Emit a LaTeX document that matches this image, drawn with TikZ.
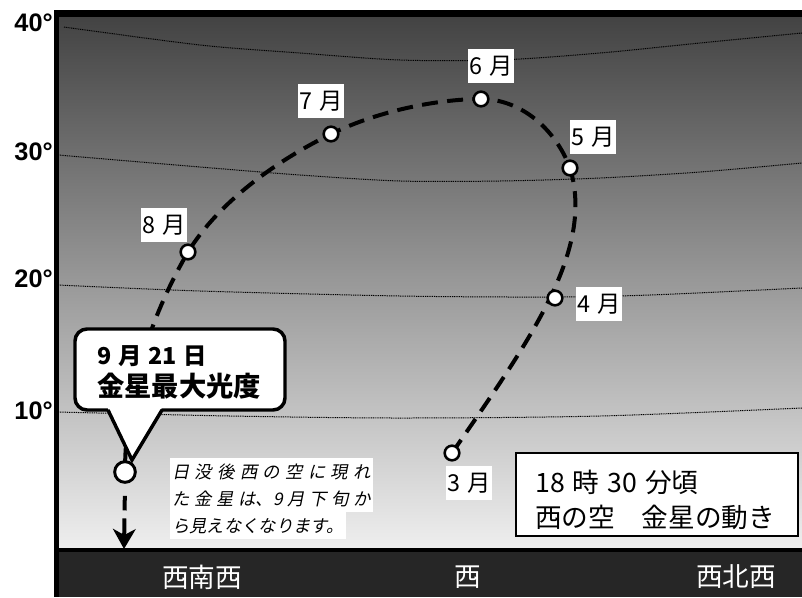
\documentclass[tikz,border=0pt]{standalone}
\usepackage{fontspec}
\usetikzlibrary{arrows.meta}
\newfontfamily\jp{Noto Sans CJK JP}
\newfontfamily\jpit{Noto Sans CJK JP}[FakeSlant=0.2]
\newfontfamily\axisfont{Liberation Sans}
\definecolor{skytop}{HTML}{434343}
\definecolor{skymid}{HTML}{A9A9A9}
\definecolor{skybot}{HTML}{EFEFEF}
\definecolor{bandcol}{HTML}{262626}
\begin{document}
\begin{tikzpicture}[x=0.75pt,y=-0.75pt,
  alt/.style={line width=0.75pt, dash pattern=on 0.75pt off 0.6pt, black},
  venuspath/.style={line width=3pt, dash pattern=on 12pt off 7pt},
  ptnode/.style={circle, draw, fill=white, line width=1.9pt, minimum size=11pt, inner sep=0},
  sepnode/.style={circle, draw, fill=white, line width=2.2pt, minimum size=15.5pt, inner sep=0},
  mlabel/.style={fill=white, inner sep=0, minimum width=35pt, minimum height=26pt, font=\jp\fontsize{17.5pt}{17.5pt}\selectfont},
  axislabel/.style={anchor=east, inner sep=0, font=\axisfont\bfseries\fontsize{19pt}{19pt}\selectfont},
  bandtext/.style={inner sep=0, text=white, font=\jp\fontsize{20pt}{20pt}\selectfont},
  itline/.style={anchor=north west, fill=white, inner xsep=1.5pt, inner ysep=0, minimum height=20.25pt, font=\jpit\fontsize{13pt}{13pt}\selectfont},
  infotext/.style={anchor=west, inner sep=0, font=\jp\fontsize{20pt}{20pt}\selectfont},
  callouttext/.style={anchor=west, inner sep=0, font=\jp\bfseries},
  callline/.style={line width=2.6pt}
]
\useasboundingbox (0,0) rectangle (802,597);
\fill[white] (0,0) rectangle (802,597);

% sky
\shade[top color=skytop, middle color=skymid, bottom color=skybot] (58,17) rectangle (802,550);

% altitude circles
\draw[alt] plot[smooth] coordinates {(64,27) (200,45) (300,53) (400,60) (500,60) (600,53) (700,43) (802,33)};
\draw[alt] plot[smooth] coordinates {(58,155) (200,167) (300,175) (400,181) (500,181) (600,178) (700,172) (802,163)};
\draw[alt] plot[smooth] coordinates {(58,285) (200,291) (400,296) (550,297) (650,295) (802,288)};
\draw[alt] plot[smooth] coordinates {(58,412) (230,416) (400,418) (600,416) (802,408)};

% horizon band and frame
\fill[bandcol] (58,550) rectangle (802,597);
\draw[line width=2.6pt] (56,550) -- (802,550);
\draw[line width=4.8pt] (54,13.5) -- (802,13.5);
\draw[line width=3.8pt] (56.5,11) -- (56.5,597);

% degree labels
\node[axislabel] (d40) at (53,23) {40°};
\node[axislabel] (d30) at (53,152) {30°};
\node[axislabel] (d20) at (53,279) {20°};
\node[axislabel] (d10) at (53,411) {10°};

% direction labels
\node[bandtext] (wsw) at (202,577) {西南西};
\node[bandtext] (w) at (468,577) {西};
\node[bandtext] (wnw) at (736,577) {西北西};

% positions of Venus
\coordinate (c3) at (452,453);
\coordinate (c4) at (555,298);
\coordinate (c5) at (570,168);
\coordinate (c6) at (481,99);
\coordinate (c7) at (331,134);
\coordinate (c8) at (188,252);
\coordinate (c9) at (125,472);
\coordinate (arrowend) at (124,549);

\draw[venuspath] (c3) .. controls (530,340) and (595,250) .. (c5)
  .. controls (555,128) and (520,99) .. (c6)
  .. controls (440,99) and (380,110) .. (c7)
  .. controls (280,159) and (220,200) .. (c8)
  .. controls (160,300) and (125,380) .. (c9);

\node[sepnode] (sep) at (c9) {};
\draw[line width=3pt, dash pattern=on 0pt off 9pt on 11pt off 6pt on 60pt,
  -{Stealth[length=15pt,width=17pt,inset=4.5pt]}] (sep.south) -- (arrowend);

\node[ptnode] (m3) at (c3) {};
\node[ptnode] (m4) at (c4) {};
\node[ptnode] (m5) at (c5) {};
\node[ptnode] (m6) at (c6) {};
\node[ptnode] (m7) at (c7) {};
\node[ptnode] (m8) at (c8) {};

% month labels
\node[mlabel] (l3) at (469,483) {3\hspace{5.5pt}月};
\node[mlabel] (l4) at (599,304) {4\hspace{5.5pt}月};
\node[mlabel] (l5) at (593,137) {5\hspace{5.5pt}月};
\node[mlabel] (l6) at (491,66) {6\hspace{5.5pt}月};
\node[mlabel] (l7) at (321,101) {7\hspace{5.5pt}月};
\node[mlabel] (l8) at (164,225) {8\hspace{5.5pt}月};

% callout
\draw[callline, fill=white, rounded corners=9pt] (75,329) rectangle (285,410);
\fill[white] (106,404) -- (164,404) -- (132,460) -- cycle;
\draw[callline, line join=miter] (108,410) -- (132,460) -- (162,410);
\node[callouttext, font=\jp\bfseries\fontsize{17.5pt}{17.5pt}\selectfont] (cl1) at (97,356) {9\hspace{5pt}月\hspace{5pt}21\hspace{5pt}日};
\node[callouttext, font=\jp\bfseries\fontsize{20.5pt}{20.5pt}\selectfont] (cl2) at (97,386) {金星最大光度};

% italic note
\node[itline] (it1) at (170,458) {\makebox[149pt][s]{日\hfill 没\hfill 後\hfill 西\hfill の\hfill 空\hfill に\hfill 現\hfill れ}};
\node[itline] (it2) at (170,485) {\makebox[149pt][s]{た\hfill 金\hfill 星\hfill は、9\hfill 月\hfill 下\hfill 旬\hfill か}};
\node[itline] (it3) at (170,512) {ら見えなくなります。};

% info box
\node[draw, line width=1.5pt, fill=white, minimum width=212pt, minimum height=62.5pt, inner sep=0] (infobox) at (657,494.5) {};
\node[infotext] (info1) at (535,482) {18\hspace{6pt}時\hspace{6pt}30\hspace{6pt}分頃};
\node[infotext] (info2) at (535,517) {西の空　金星の動き};
\end{tikzpicture}
\end{document}
